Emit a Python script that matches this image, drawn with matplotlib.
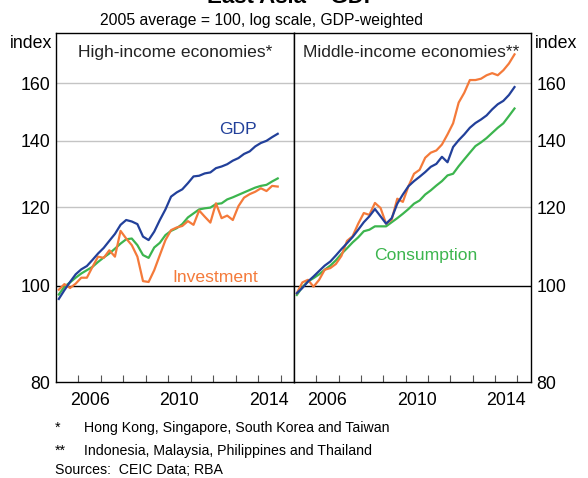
#!/usr/bin/env python3
"""East Asia - GDP: high- and middle-income economies, log scale index."""

import matplotlib

matplotlib.use("Agg")

import matplotlib.pyplot as plt
import numpy as np
from matplotlib.ticker import FixedLocator, NullFormatter, NullLocator, FixedFormatter

plt.rcParams["font.family"] = ["Liberation Sans", "DejaVu Sans"]

# quarterly data, 2005 Q1 .. 2014 Q4 (index, 2005 average = 100)
START_YEAR = 2005

HIGH_GDP = [97.0, 99.0, 100.9, 102.7, 103.9, 104.7, 106.2, 107.8, 109.2, 111.0,
            112.8, 115.2, 116.5, 116.1, 115.4, 112.1, 111.2, 113.4, 116.5, 119.4,
            123.0, 124.2, 125.1, 126.9, 128.9, 129.1, 129.8, 130.1, 131.4, 131.9,
            132.6, 133.7, 134.5, 135.8, 136.6, 138.2, 139.3, 140.0, 141.2, 142.3]
HIGH_CONS = [98.0, 99.8, 100.8, 101.9, 102.9, 103.7, 104.5, 105.7, 106.8, 107.8,
             109.0, 110.3, 111.4, 111.6, 109.9, 107.4, 106.7, 109.3, 110.5, 112.5,
             113.6, 114.3, 115.4, 117.2, 118.3, 119.4, 119.7, 119.9, 120.9, 121.1,
             122.2, 122.8, 123.5, 124.2, 124.9, 125.6, 126.1, 126.4, 127.4, 128.3]
HIGH_INV = [99.1, 100.4, 99.5, 100.5, 101.9, 101.9, 104.5, 107.0, 106.7, 108.6,
            107.0, 113.6, 111.6, 109.9, 107.0, 101.1, 100.9, 103.7, 107.4, 111.2,
            113.8, 114.5, 114.9, 116.2, 115.2, 119.1, 117.4, 115.8, 121.1, 117.0,
            117.7, 116.5, 120.3, 122.7, 123.7, 124.4, 125.4, 124.6, 126.1, 125.9]

MID_GDP = [98.3, 99.5, 101.0, 102.2, 103.5, 104.8, 105.8, 107.3, 108.9, 110.4,
           112.0, 113.9, 115.9, 117.5, 119.5, 117.5, 115.5, 117.0, 121.0, 123.6,
           126.0, 127.5, 128.8, 130.2, 131.8, 132.7, 134.9, 133.2, 138.0, 140.2,
           142.1, 144.3, 145.9, 147.1, 148.5, 150.6, 152.4, 153.6, 155.7, 158.6]
MID_CONS = [97.9, 99.7, 101.0, 101.8, 102.7, 103.8, 104.8, 106.1, 107.7, 109.1,
            110.6, 111.9, 113.5, 113.9, 114.8, 114.8, 114.8, 115.9, 117.0, 118.2,
            119.5, 121.0, 121.9, 123.6, 124.8, 126.2, 127.5, 129.2, 129.7, 132.0,
            134.1, 136.2, 138.3, 139.5, 140.9, 142.6, 144.3, 145.8, 148.3, 150.9]
MID_INV = [98.3, 100.8, 101.4, 99.8, 101.4, 103.8, 104.2, 105.2, 107.2, 111.0,
           112.2, 115.5, 118.4, 117.9, 121.2, 119.8, 115.5, 116.6, 122.4, 121.5,
           126.0, 129.7, 130.9, 134.6, 136.2, 136.9, 138.8, 142.1, 145.8, 153.0,
           156.5, 161.2, 161.2, 161.7, 163.0, 163.8, 163.0, 164.9, 167.5, 171.1]

Y_TICKS = [80, 100, 120, 140, 160]
YEAR_TICKS = list(range(2006, 2016))
YEAR_LABELS = [2006, 2010, 2014]

BLUE = "#22409a"
GREEN = "#3cb54e"
ORANGE = "#f47a3a"
GRID = "#c4c4c4"

FS_TICK = 12.8
FS_LABEL = 12.6
FS_NOTE = 10.2


def _quarters(n: int) -> np.ndarray:
    return START_YEAR + 0.125 + 0.25 * np.arange(n)


def _style_axes(ax: plt.Axes, side: str) -> None:
    ax.set_yscale("log")
    ax.set_ylim(80, 180)
    ax.set_xlim(2005.0, 2015.6)

    for v in Y_TICKS[1:]:
        if v == 100:
            ax.axhline(v, color="black", lw=1.0, zorder=1)
        else:
            ax.axhline(v, color=GRID, lw=1.0, zorder=1)

    ax.yaxis.set_major_locator(FixedLocator(Y_TICKS))
    ax.yaxis.set_major_formatter(FixedFormatter([str(v) for v in Y_TICKS]))
    ax.yaxis.set_minor_locator(NullLocator())
    ax.yaxis.set_minor_formatter(NullFormatter())
    on_left = side == "left"
    ax.tick_params(axis="y", which="both", left=on_left, right=not on_left,
                   labelleft=on_left, labelright=not on_left, length=0, pad=4,
                   labelsize=FS_TICK)

    ax.xaxis.set_major_locator(FixedLocator(YEAR_TICKS))
    ax.xaxis.set_major_formatter(NullFormatter())
    ax.xaxis.set_minor_locator(FixedLocator([y + 0.5 for y in YEAR_LABELS]))
    ax.xaxis.set_minor_formatter(FixedFormatter([str(y) for y in YEAR_LABELS]))
    ax.tick_params(axis="x", which="major", direction="in", length=5,
                   width=0.8, color="#555555", top=False)
    ax.tick_params(axis="x", which="minor", length=0, pad=7, labelsize=FS_TICK)

    for sp in ax.spines.values():
        sp.set_linewidth(1.0)
        sp.set_color("black")


def _plot_panel(ax: plt.Axes, gdp, cons, inv) -> None:
    ax.plot(_quarters(len(cons)), cons, color=GREEN, lw=1.6, zorder=3)
    ax.plot(_quarters(len(inv)), inv, color=ORANGE, lw=1.6, zorder=4)
    ax.plot(_quarters(len(gdp)), gdp, color=BLUE, lw=1.6, zorder=5)


def main() -> None:
    fig = plt.figure(figsize=(5.88, 4.78), dpi=100)
    W, H = 588, 478
    bottom = (H - 382) / H
    height = (382 - 32.5) / H
    ax1 = fig.add_axes([56 / W, bottom, (294 - 56) / W, height])
    ax2 = fig.add_axes([294 / W, bottom, (530.7 - 294) / W, height])

    _plot_panel(ax1, HIGH_GDP, HIGH_CONS, HIGH_INV)
    _plot_panel(ax2, MID_GDP, MID_CONS, MID_INV)
    _style_axes(ax1, "left")
    _style_axes(ax2, "right")

    ax1.text(0.5, 0.931, "High-income economies*", transform=ax1.transAxes,
             ha="center", va="baseline", fontsize=FS_LABEL, color="#222222")
    ax2.text(0.496, 0.931, "Middle-income economies**", transform=ax2.transAxes,
             ha="center", va="baseline", fontsize=FS_LABEL, color="#222222")

    ax1.text(2013.1, 142.1, "GDP", color=BLUE, ha="center", va="baseline",
             fontsize=FS_LABEL)
    ax1.text(2012.1, 100.9, "Investment", color=ORANGE, ha="center",
             va="baseline", fontsize=FS_LABEL)
    ax2.text(2010.9, 106.2, "Consumption", color=GREEN, ha="center",
             va="baseline", fontsize=FS_LABEL)

    fig.text(52 / W, 1 - 48.5 / H, "index", ha="right", va="baseline",
             fontsize=FS_TICK)
    fig.text(535 / W, 1 - 48.5 / H, "index", ha="left", va="baseline",
             fontsize=FS_TICK)

    # chart title sits mostly above the visible area, as in the source image
    fig.text(293 / W, 1 - 2.7 / H, "East Asia \u2013 GDP", ha="center",
             va="baseline", fontsize=16, fontweight="bold")
    fig.text(262 / W, 1 - 25 / H, "2005 average = 100, log scale, GDP-weighted",
             ha="center", va="baseline", fontsize=11.3)

    notes = [
        ("*", "Hong Kong, Singapore, South Korea and Taiwan", 432.0),
        ("**", "Indonesia, Malaysia, Philippines and Thailand", 455.0),
    ]
    for mark, text, y in notes:
        fig.text(55 / W, 1 - y / H, mark, ha="left", va="baseline", fontsize=FS_NOTE)
        fig.text(83.5 / W, 1 - y / H, text, ha="left", va="baseline", fontsize=FS_NOTE)
    fig.text(55 / W, 1 - 473.5 / H, "Sources:  CEIC Data; RBA", ha="left",
             va="baseline", fontsize=FS_NOTE)

    fig.savefig("out.png", dpi=100)


if __name__ == "__main__":
    main()
